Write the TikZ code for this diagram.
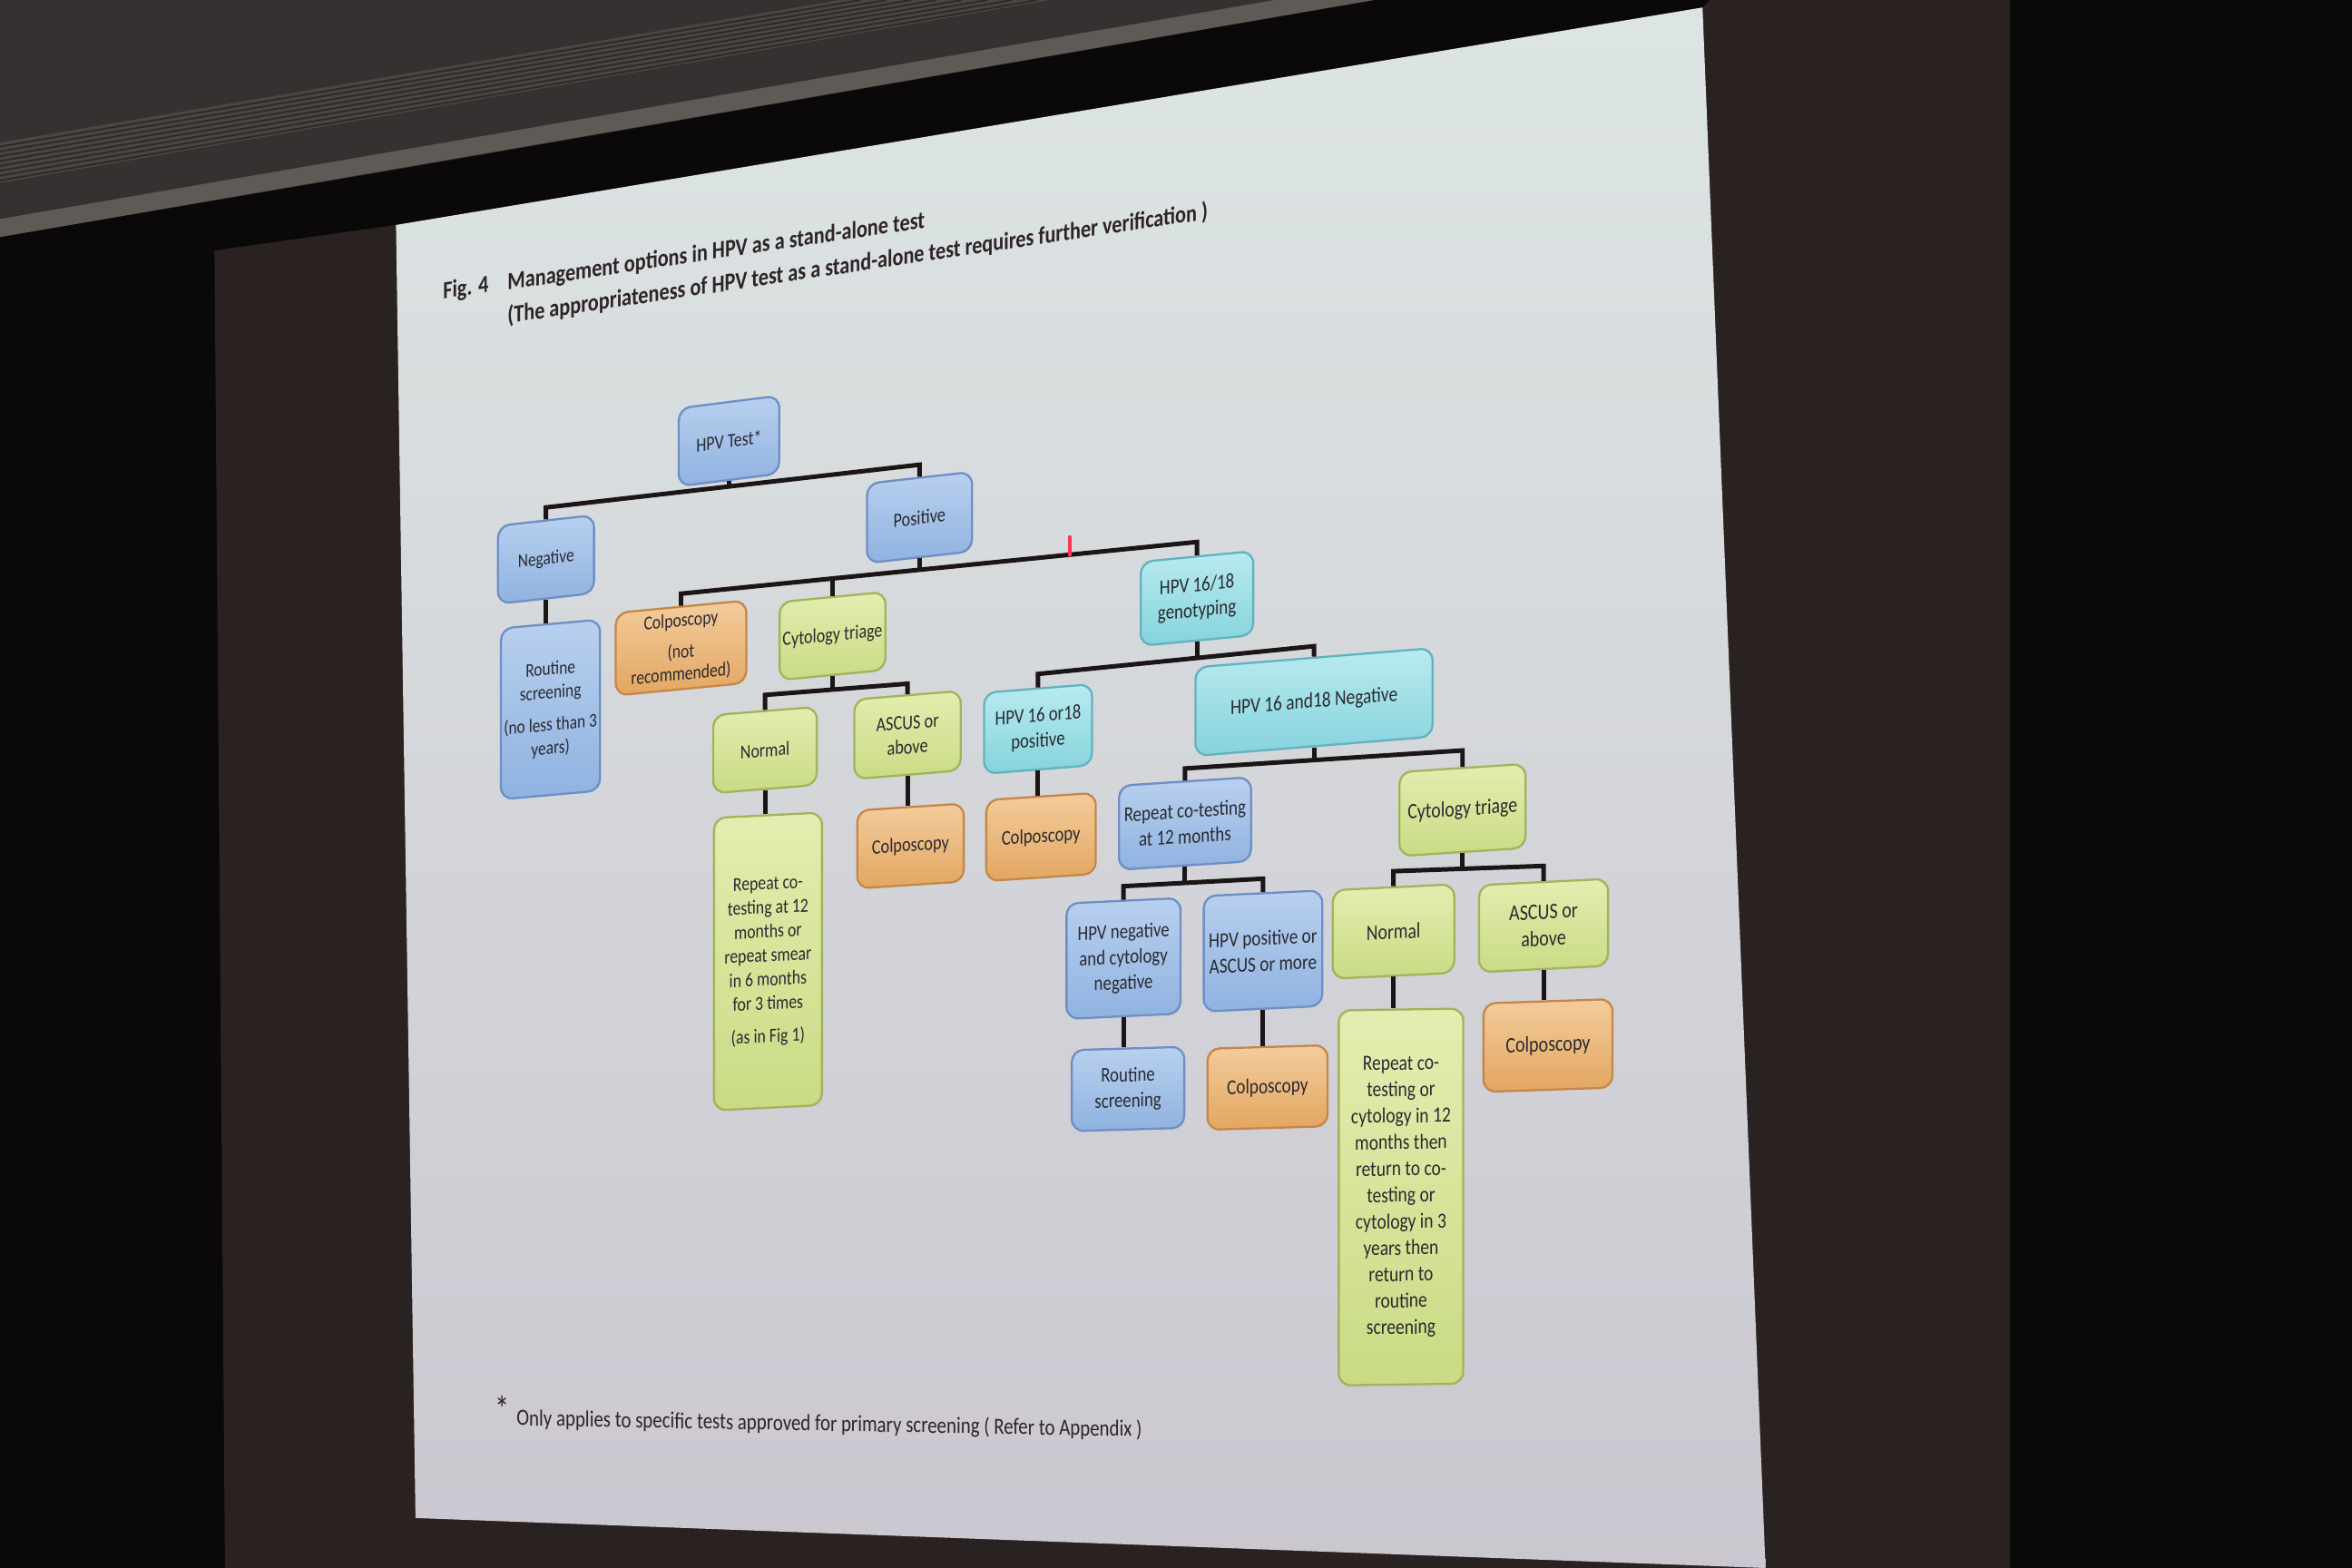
\documentclass[tikz,border=0pt]{standalone}
\usepackage{fontspec}
\setmainfont{Carlito}[FakeStretch=0.82]
\usetikzlibrary{calc}
\definecolor{blackzero}{HTML}{0A0808}
\definecolor{wallcol}{HTML}{2A2220}
\definecolor{ceilcol}{HTML}{363130}
\definecolor{ventcol}{HTML}{4B4643}
\definecolor{slatcol}{HTML}{2E2A28}
\definecolor{ceillight}{HTML}{605A57}
\definecolor{scrtop}{HTML}{DDE5E4}
\definecolor{scrbot}{HTML}{CBC7D0}
\definecolor{txtcol}{HTML}{2A2A30}
\definecolor{titlecol}{HTML}{2E2428}
\definecolor{conncol}{HTML}{1C1515}
\definecolor{bluetop}{HTML}{B9D0EF}
\definecolor{bluebot}{HTML}{8FB2E0}
\definecolor{bluedraw}{HTML}{6D8FC4}
\definecolor{cyantop}{HTML}{B8EBEF}
\definecolor{cyanbot}{HTML}{85D3DC}
\definecolor{cyandraw}{HTML}{62B2C0}
\definecolor{greentop}{HTML}{E4EDB0}
\definecolor{greenbot}{HTML}{C9DB84}
\definecolor{greendraw}{HTML}{A0B45A}
\definecolor{orangetop}{HTML}{F3CC9C}
\definecolor{orangebot}{HTML}{E3A660}
\definecolor{orangedraw}{HTML}{C4874A}
\definecolor{lasercol}{HTML}{FF3355}
\newcommand{\barconn}[4]{%
  \draw[conn] (#1.north) -- ($(#1.north)+(0,-#3)$) -- ($(#2.north)+(0,-#4)$) -- (#2.north);}
\newcommand{\droptobar}[5]{%
  \draw[conn] let \p1=($(#2.north)+(0,-#4)$), \p2=($(#3.north)+(0,-#5)$), \p3=(#1) in
    (\p3) -- (\x3,{\y1+(\y2-\y1)*((\x3-\x1)/(\x2-\x1))});}
\begin{document}
\begin{tikzpicture}[x=0.5pt,y=-0.5pt,
  box/.style={draw, rounded corners=4pt, line width=0.7pt, align=center, inner sep=1pt, text=txtcol},
  bluebox/.style={box, draw=bluedraw, top color=bluetop, bottom color=bluebot},
  cyanbox/.style={box, draw=cyandraw, top color=cyantop, bottom color=cyanbot},
  greenbox/.style={box, draw=greendraw, top color=greentop, bottom color=greenbot},
  orangebox/.style={box, draw=orangedraw, top color=orangetop, bottom color=orangebot},
  fs/.style 2 args={font=\fontsize{#1}{#2}\selectfont},
  conn/.style={draw=conncol, line width=1.5pt},
  titletext/.style={anchor=west, yslant=0.149, text=titlecol, inner sep=0pt, font=\bfseries\fontsize{8.2}{10}\selectfont},
]
\useasboundingbox (0,0) rectangle (1568,1045.33);
% ---------- room and screen ----------
\fill[blackzero] (0,0) rectangle (1568,1045.33);
\fill[wallcol] (143,167) -- (264,150) -- (1135,5) -- (1140,0) -- (1340,0) -- (1340,1045.33) -- (150,1045.33) -- cycle;
\fill[ceilcol] (0,0) -- (916,0) -- (264,113) -- (0,158) -- cycle;
\fill[ventcol] (0,95) -- (560,0) -- (700,0) -- (0,122) -- cycle;
\foreach \t in {0.1,0.22,...,0.95}
  \draw[slatcol, line width=0.6pt] (0,{95+27*\t}) -- ({560+140*\t},0);
\fill[ceillight] (0,146) -- (850,0) -- (916,0) -- (0,158) -- cycle;
\shade[top color=scrtop, bottom color=scrbot] (264,150) -- (1135,5) -- (1177,1045.33) -- (277,1012) -- cycle;
% ---------- title ----------
\node[titletext] (fig) at (295,195) {Fig. 4};
\node[titletext] (title1) at (338,189) {Management options in HPV as a stand-alone test};
\node[titletext] (title2) at (338,211) {(The appropriateness of HPV test as a stand-alone test requires further verification )};
% ---------- nodes ----------
\node[bluebox, minimum width=33.5pt, minimum height=26pt, yslant=0.126, fs={6.6}{8}] (hpv) at (486,294) {HPV Test*};
\node[bluebox, minimum width=32pt, minimum height=26pt, yslant=0.112, fs={6.4}{7.8}] (neg) at (364,373) {Negative};
\node[bluebox, minimum width=35pt, minimum height=26.5pt, yslant=0.112, fs={6.75}{8.2}] (pos) at (613,345) {Positive};
\node[bluebox, minimum width=33pt, minimum height=57pt, yslant=0.089, fs={6.4}{7.8}] (rout1) at (367,473)
  {Routine\\screening\\[3pt](no less than 3\\years)};
\node[orangebox, minimum width=43.5pt, minimum height=27.5pt, yslant=0.096, fs={6.5}{7.4}] (colnr) at (454,432)
  {Colposcopy\\[3pt](not\\recommended)};
\node[greenbox, minimum width=34.5pt, minimum height=26pt, yslant=0.096, fs={6.65}{8.1}] (cyt1) at (555,424) {Cytology triage};
\node[cyanbox, minimum width=37.5pt, minimum height=28pt, yslant=0.096, fs={7.0}{8.5}] (geno) at (798,399) {HPV 16/18\\genotyping};
\node[greenbox, minimum width=34.5pt, minimum height=26pt, yslant=0.080, fs={6.6}{8}] (norm1) at (510,500) {Normal};
\node[greenbox, minimum width=35.5pt, minimum height=26.5pt, yslant=0.081, fs={6.75}{8.2}] (asc1) at (605,490) {ASCUS or\\above};
\node[orangebox, minimum width=35.5pt, minimum height=26pt, yslant=0.065, fs={6.75}{8.2}] (col1) at (607,564) {Colposcopy};
\node[greenbox, minimum width=36pt, minimum height=97.5pt, yslant=0.049, fs={6.55}{8}] (rep1) at (512,641)
  {Repeat co-\\testing at 12\\months or\\repeat smear\\in 6 months\\for 3 times\\[3pt](as in Fig 1)};
\node[cyanbox, minimum width=36pt, minimum height=27pt, yslant=0.080, fs={6.9}{8.4}] (p1618) at (692,486) {HPV 16 or18\\positive};
\node[orangebox, minimum width=36.5pt, minimum height=27pt, yslant=0.065, fs={6.9}{8.4}] (col2) at (694,558) {Colposcopy};
\node[cyanbox, minimum width=79pt, minimum height=29.5pt, yslant=0.081, fs={7.15}{8.7}] (n1618) at (876,468) {HPV 16 and18 Negative};
\node[bluebox, minimum width=44pt, minimum height=28pt, yslant=0.065, fs={7.0}{8.5}] (rep2) at (790,549) {Repeat co-testing\\at 12 months};
\node[greenbox, minimum width=42pt, minimum height=28pt, yslant=0.065, fs={7.3}{8.9}] (cyt2) at (975,540) {Cytology triage};
\node[bluebox, minimum width=38pt, minimum height=38.5pt, yslant=0.047, fs={6.95}{8.5}] (hneg) at (749,639) {HPV negative\\and cytology\\negative};
\node[bluebox, minimum width=39.5pt, minimum height=38.5pt, yslant=0.047, fs={7.1}{8.65}] (hpos) at (842,634) {HPV positive or\\ASCUS or more};
\node[bluebox, minimum width=37.5pt, minimum height=27pt, yslant=0.029, fs={6.95}{8.5}] (rout2) at (752,726) {Routine\\screening};
\node[orangebox, minimum width=40pt, minimum height=27pt, yslant=0.029, fs={7.1}{8.65}] (col3) at (845,725) {Colposcopy};
\node[greenbox, minimum width=40.5pt, minimum height=29.5pt, yslant=0.049, fs={7.25}{8.85}] (norm2) at (929,621) {Normal};
\node[greenbox, minimum width=43pt, minimum height=29pt, yslant=0.049, fs={7.4}{9}] (asc2) at (1029,617) {ASCUS or\\above};
\node[orangebox, minimum width=43pt, minimum height=29.5pt, yslant=0.033, fs={7.4}{9}] (col4) at (1032,697) {Colposcopy};
\node[greenbox, minimum width=41.5pt, minimum height=125pt, yslant=0.014, fs={7.2}{8.8}] (rep3) at (934,798)
  {Repeat co-\\testing or\\cytology in 12\\months then\\return to co-\\testing or\\cytology in 3\\years then\\return to\\routine\\screening};
% ---------- connectors ----------
\barconn{neg}{pos}{8}{8}
\droptobar{hpv.south}{neg}{pos}{8}{8}
\barconn{colnr}{geno}{8}{9}
\droptobar{pos.south}{colnr}{geno}{8}{9}
\droptobar{cyt1.north}{colnr}{geno}{8}{9}
\barconn{p1618}{n1618}{9}{7}
\droptobar{geno.south}{p1618}{n1618}{9}{7}
\barconn{norm1}{asc1}{10}{7}
\droptobar{cyt1.south}{norm1}{asc1}{10}{7}
\barconn{rep2}{cyt2}{8}{11}
\droptobar{n1618.south}{rep2}{cyt2}{8}{11}
\barconn{hneg}{hpos}{9}{9}
\droptobar{rep2.south}{hneg}{hpos}{9}{9}
\barconn{norm2}{asc2}{10}{10}
\droptobar{cyt2.south}{norm2}{asc2}{10}{10}
\draw[conn] (neg.south) -- (neg.south |- rout1.north);
\draw[conn] (norm1.south) -- (norm1.south |- rep1.north);
\draw[conn] (asc1.south) -- (asc1.south |- col1.north);
\draw[conn] (p1618.south) -- (p1618.south |- col2.north);
\draw[conn] (hneg.south) -- (hneg.south |- rout2.north);
\draw[conn] (hpos.south) -- (hpos.south |- col3.north);
\draw[conn] (norm2.south) -- (norm2.south |- rep3.north);
\draw[conn] (asc2.south) -- (asc2.south |- col4.north);
% ---------- footnote ----------
\node[text=titlecol, inner sep=0pt, font=\fontsize{12}{13}\selectfont] (star) at (335,939) {*};
\node[anchor=west, yslant=-0.018, text=titlecol, inner sep=0pt, font=\fontsize{7.7}{9}\selectfont] (foot) at (344,946)
  {Only applies to specific tests approved for primary screening ( Refer to Appendix )};
% ---------- laser pointer ----------
\draw[lasercol, line width=1.2pt, line cap=round] (713,358) -- (713,370);
\end{tikzpicture}
\end{document}
